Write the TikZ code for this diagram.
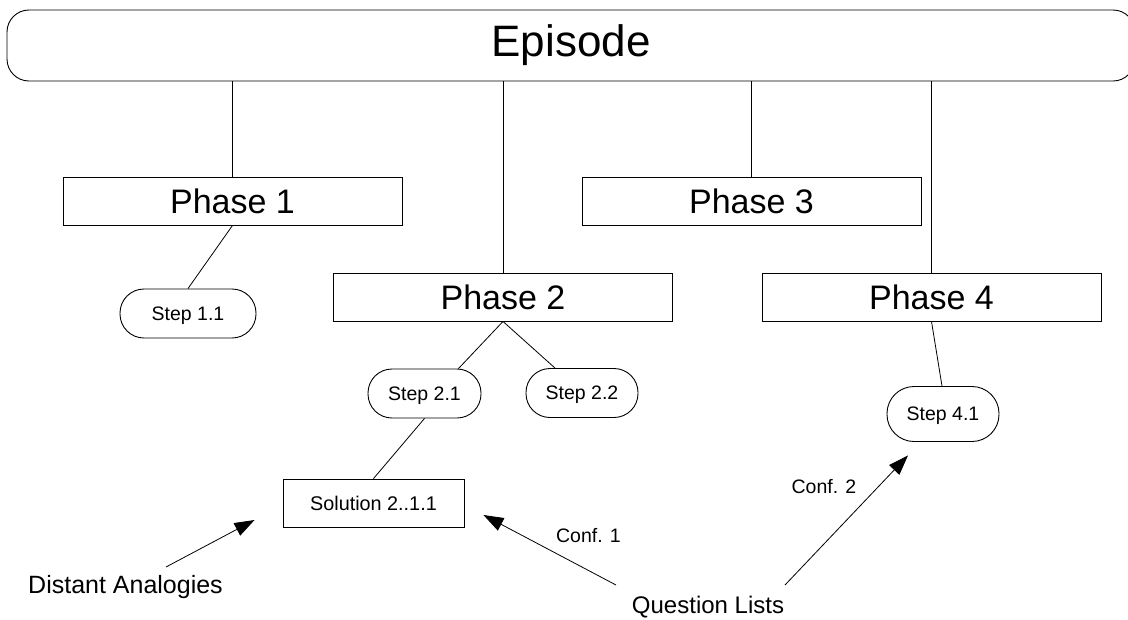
\documentclass[tikz,border=0pt]{standalone}
\usepackage{fontspec}
\setmainfont{Liberation Sans}
\usetikzlibrary{arrows.meta,calc}
\tikzset{
  phasebox/.style={draw, line width=0.9pt, inner sep=0pt, text depth=0pt,
    minimum width=339pt, minimum height=48pt, font=\fontsize{34}{40}\selectfont},
  pill/.style={draw, line width=0.9pt, rounded corners=24pt, inner sep=0pt,
    text depth=0pt, minimum height=49pt, font=\fontsize{19.5}{23}\selectfont},
  link/.style={line width=0.8pt},
  pointer/.style={line width=0.8pt, -{Triangle[length=20pt,width=14pt]}},
  caption/.style={inner sep=0pt, anchor=base},
}
\begin{document}
\begin{tikzpicture}[x=1pt,y=-1pt]
\useasboundingbox (0,0) rectangle (1128,619);
\fill[white] (0,0) rectangle (1128,619);

% top-level episode bar (runs off the right edge)
\node[draw, line width=0.9pt, rounded corners=22pt, inner sep=0pt,
  minimum width=1128pt, minimum height=71pt,
  font=\fontsize{44}{50}\selectfont] (ep) at (571,45.5) {Episode};

% phases
\node[phasebox] (p1) at (232.5,201) {Phase 1};
\node[phasebox] (p3) at (751.5,201) {Phase 3};
\node[phasebox] (p2) at (503,297) {Phase 2};
\node[phasebox] (p4) at (931.5,297) {Phase 4};

% steps
\node[pill, minimum width=136pt] (s11) at (188,313.5) {Step 1.1};
\node[pill, minimum width=113pt] (s21) at (424.5,393.5) {Step 2.1};
\node[pill, minimum width=112pt] (s22) at (582,393) {Step 2.2};
\node[pill, minimum width=112pt, minimum height=55pt, rounded corners=27pt] (s41) at (943,414) {Step 4.1};

% solution
\node[draw, line width=0.9pt, inner sep=0pt, text depth=0pt,
  minimum width=181pt, minimum height=48pt,
  font=\fontsize{19.8}{23}\selectfont] (sol) at (373.5,503) {Solution 2..1.1};

% free-standing labels
\node[caption, font=\fontsize{25}{30}\selectfont] (da) at (125.5,593) {Distant Analogies};
\node[caption, font=\fontsize{24}{29}\selectfont] (ql) at (708,613) {Question Lists};
\node[caption, font=\fontsize{19.5}{23}\selectfont] (c1) at (588.5,542) {Conf. 1};
\node[caption, font=\fontsize{19.5}{23}\selectfont] (c2) at (824,493) {Conf. 2};

% tree links
\foreach \p in {p1,p2,p3,p4}
  \draw[link] (\p.north |- ep.south) -- (\p.north);
\draw[link] (p1.south) -- (s11.north);
\draw[link] (p2.south) -- ([xshift=34pt]s21.north);
\draw[link] (p2.south) -- ([xshift=-27pt]s22.north);
\draw[link] (s21.south) -- (sol.north);
\draw[link] (p4.south) -- ([xshift=-1pt]s41.north);

% arrow ends
\coordinate (datail) at ($(da.base)+(40.5,-26)$);
\coordinate (dahead) at ($(sol.west)+(-28,17)$);
\coordinate (q1tail) at ($(ql.base)+(-92,-28)$);
\coordinate (q1head) at ($(sol.east)+(19,12)$);
\coordinate (q2tail) at ($(ql.base)+(77,-28)$);
\coordinate (q2head) at ($(s41.south)+(-35,13.5)$);

\draw[pointer] (datail) -- (dahead);
\draw[pointer] (q1tail) -- (q1head);
\draw[pointer] (q2tail) -- (q2head);
\end{tikzpicture}
\end{document}
